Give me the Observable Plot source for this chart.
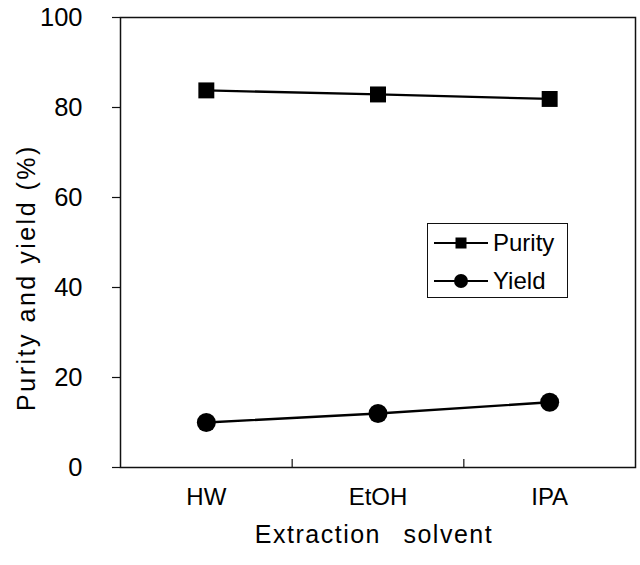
<!DOCTYPE html>
<html><head><meta charset="utf-8">
<script src="https://cdn.jsdelivr.net/npm/d3@7"></script>
<script src="https://cdn.jsdelivr.net/npm/@observablehq/plot@0.6"></script>
<style>
body{margin:0;background:#fff;}
#wrap{position:relative;width:640px;height:565px;font-family:"Liberation Sans",Arial,sans-serif;}
#legend{position:absolute;left:427px;top:223px;width:141px;height:75px;border:1.5px solid #111;box-sizing:border-box;background:#fff;}
#legend .row{position:absolute;left:0;height:30px;display:flex;align-items:center;font-size:24px;color:#000;}
#legend svg{display:block;}
</style></head><body><div id="wrap"></div>
<script>
const categories = ["HW","EtOH","IPA"];
const purity = [83.8, 82.9, 81.9];
const yieldVals = [10.0, 12.0, 14.5];
const yTicks = [0,20,40,60,80,100];
const xSeparators = [0.5, 1.5];
const seriesNames = ["Purity","Yield"];
const xTitle = "Extraction solvent";
const yTitle = "Purity and yield (%)";

const rows = categories.flatMap((c,i)=>[
  {i, cat:c, series:"Purity", value:purity[i]},
  {i, cat:c, series:"Yield", value:yieldVals[i]}
]);

const W = 640, H = 565, mL = 120, mR = 5, mT = 17, mB = 98;
const plotH = H - mT - mB;
const font = "'Liberation Sans', Arial, sans-serif";

const plot = Plot.plot({
  width: W, height: H,
  marginLeft: mL, marginRight: mR, marginTop: mT, marginBottom: mB,
  style: {fontFamily: font, fontSize: "24px", color: "#000", background: "#fff"},
  x: {domain: [-0.5, 2.5], axis: null},
  y: {domain: [0, 100], axis: null},
  marks: [
    Plot.frame({stroke: "#111", strokeWidth: 1.5}),
    Plot.axisY(yTicks, {anchor: "left", tickSize: 8, tickPadding: 30, fontSize: 25.5, label: null, stroke: "#111", strokeWidth: 1.2}),
    Plot.ruleX(xSeparators, {x: d => d, insetTop: plotH - 8, stroke: "#111", strokeWidth: 1.2}),
    Plot.text(categories, {x: (d,i) => i, frameAnchor: "bottom", dy: 37, fontSize: 24, fill: "#000"}),
    Plot.text([xTitle], {frameAnchor: "bottom", dy: 75, dx: -4, fontSize: 25, fill: "#000"}),
    Plot.text([yTitle], {frameAnchor: "left", textAnchor: "middle", rotate: -90, dx: -94, dy: 35, fontSize: 25, fill: "#000"}),
    Plot.line(rows, {x: "i", y: "value", z: "series", stroke: "#000", strokeWidth: 2.3}),
    Plot.dot(rows.filter(d => d.series === "Purity"), {x: "i", y: "value", symbol: "square", r: 9, fill: "#000", stroke: "none"}),
    Plot.dot(rows.filter(d => d.series === "Yield"), {x: "i", y: "value", symbol: "circle", r: 9.5, fill: "#000", stroke: "none"})
  ]
});

const wrap = document.getElementById("wrap");
wrap.appendChild(plot);

// letter spacing on axis titles to match the scanned look
d3.select(plot).selectAll("text").filter(function(){ return this.textContent === xTitle; })
  .style("letter-spacing", "1.5px").style("word-spacing", "14px");
d3.select(plot).selectAll("text").filter(function(){ return this.textContent === yTitle; })
  .style("letter-spacing", "2.5px");

// legend
const legend = document.createElement("div");
legend.id = "legend";
const markers = {Purity: "square", Yield: "circle"};
seriesNames.forEach((name, k) => {
  const row = document.createElement("div");
  row.className = "row";
  row.style.top = (k === 0 ? 4 : 42) + "px";
  const svgNS = "http://www.w3.org/2000/svg";
  const s = document.createElementNS(svgNS, "svg");
  s.setAttribute("width", 64); s.setAttribute("height", 30);
  const ln = document.createElementNS(svgNS, "line");
  ln.setAttribute("x1", 6); ln.setAttribute("x2", 60); ln.setAttribute("y1", 15); ln.setAttribute("y2", 15);
  ln.setAttribute("stroke", "#000"); ln.setAttribute("stroke-width", 2);
  s.appendChild(ln);
  if (markers[name] === "square") {
    const r = document.createElementNS(svgNS, "rect");
    r.setAttribute("x", 33 - 5.5); r.setAttribute("y", 15 - 5.5); r.setAttribute("width", 11); r.setAttribute("height", 11);
    r.setAttribute("fill", "#000"); s.appendChild(r);
  } else {
    const c = document.createElementNS(svgNS, "circle");
    c.setAttribute("cx", 33); c.setAttribute("cy", 15); c.setAttribute("r", 7);
    c.setAttribute("fill", "#000"); s.appendChild(c);
  }
  row.appendChild(s);
  const t = document.createElement("span");
  t.textContent = name;
  t.style.marginLeft = "1px";
  row.appendChild(t);
  legend.appendChild(row);
});
wrap.appendChild(legend);
</script></body></html>
